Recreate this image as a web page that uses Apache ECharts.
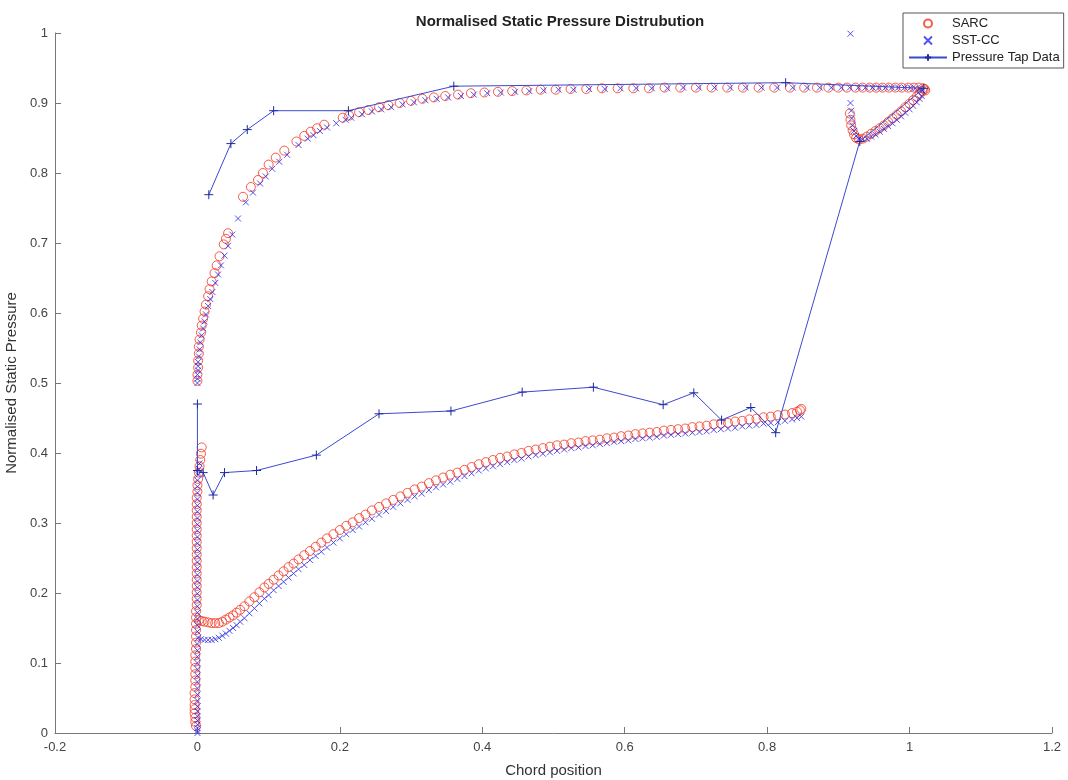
<!DOCTYPE html>
<html><head><meta charset="utf-8">
<script src="https://cdn.jsdelivr.net/npm/echarts@6/dist/echarts.min.js"></script>
<style>html,body{margin:0;padding:0;background:#fff}#c{width:1068px;height:780px}</style>
</head><body><div id="c"></div>
<script>
var xTicks = [-0.2, 0, 0.2, 0.4, 0.6, 0.8, 1, 1.2];
var yTicks = [0, 0.1, 0.2, 0.3, 0.4, 0.5, 0.6, 0.7, 0.8, 0.9, 1];

var sarcUpper = [[0.000,0.503],[0.000,0.512],[0.001,0.522],[0.001,0.532],[0.002,0.542],[0.002,0.552],[0.003,0.562],[0.005,0.572],[0.006,0.582],[0.008,0.592],[0.010,0.602],[0.012,0.612],[0.015,0.624],[0.017,0.634],[0.020,0.645],[0.024,0.657],[0.027,0.668],[0.031,0.681],[0.037,0.698],[0.040,0.706],[0.043,0.714],[0.064,0.766],[0.075,0.780],[0.085,0.790],[0.092,0.800],[0.100,0.812],[0.110,0.822],[0.122,0.832],[0.139,0.845],[0.150,0.853],[0.159,0.859],[0.168,0.864],[0.178,0.869],[0.204,0.879],[0.213,0.882],[0.227,0.887],[0.240,0.890],[0.255,0.894],[0.268,0.897],[0.284,0.900],[0.300,0.903],[0.316,0.906],[0.332,0.908],[0.348,0.910],[0.366,0.912],[0.384,0.914],[0.403,0.915],[0.422,0.916],[0.442,0.917],[0.462,0.918],[0.482,0.919],[0.503,0.919],[0.524,0.920],[0.546,0.920],[0.568,0.921],[0.590,0.921],[0.612,0.921],[0.634,0.921],[0.656,0.922],[0.678,0.922],[0.700,0.922],[0.722,0.922],[0.744,0.922],[0.766,0.922],[0.788,0.922],[0.810,0.922],[0.832,0.922],[0.852,0.922],[0.870,0.922],[0.886,0.922],[0.900,0.922],[0.912,0.922],[0.924,0.922],[0.934,0.922],[0.944,0.922],[0.953,0.922],[0.962,0.922],[0.971,0.922],[0.980,0.922],[0.989,0.922],[0.998,0.922],[1.006,0.922],[1.013,0.922],[1.019,0.921],[1.022,0.918]];
var sarcTrailing = [[0.916,0.885],[0.917,0.876],[0.918,0.868],[0.920,0.861],[0.922,0.855],[0.925,0.850],[0.929,0.848],[0.934,0.849],[0.940,0.852],[0.946,0.856],[0.952,0.860],[0.958,0.864],[0.964,0.868],[0.970,0.873],[0.976,0.878],[0.982,0.883],[0.988,0.888],[0.994,0.894],[1.000,0.899],[1.005,0.904],[1.010,0.909],[1.014,0.913],[1.018,0.917],[1.021,0.920]];
var sarcLeading = [[0.006,0.408],[0.005,0.399],[0.004,0.390],[0.003,0.381],[0.002,0.372],[0.001,0.363],[0.000,0.354],[0.000,0.345],[-0.001,0.336],[-0.001,0.327],[-0.001,0.318],[-0.001,0.309],[-0.001,0.300],[-0.001,0.291],[-0.001,0.282],[-0.001,0.273],[-0.001,0.264],[-0.001,0.255],[-0.001,0.246],[-0.001,0.237],[-0.001,0.228],[-0.001,0.219],[-0.001,0.210],[-0.001,0.201],[-0.001,0.192],[-0.001,0.183],[-0.002,0.174],[-0.002,0.165],[-0.002,0.156],[-0.002,0.147],[-0.002,0.138],[-0.002,0.129],[-0.002,0.120],[-0.003,0.111],[-0.003,0.102],[-0.003,0.093],[-0.003,0.084],[-0.003,0.075],[-0.003,0.066],[-0.004,0.057],[-0.004,0.048],[-0.004,0.040],[-0.004,0.034],[-0.004,0.028],[-0.003,0.022],[-0.003,0.016],[-0.002,0.010]];
var sarcLower = [[0.002,0.161],[0.006,0.160],[0.010,0.159],[0.015,0.158],[0.020,0.157],[0.025,0.157],[0.030,0.157],[0.035,0.159],[0.040,0.162],[0.045,0.165],[0.050,0.168],[0.055,0.172],[0.060,0.176],[0.066,0.181],[0.073,0.188],[0.080,0.194],[0.087,0.201],[0.094,0.208],[0.100,0.213],[0.107,0.219],[0.114,0.225],[0.121,0.231],[0.128,0.237],[0.135,0.242],[0.142,0.248],[0.150,0.254],[0.158,0.260],[0.166,0.266],[0.174,0.272],[0.182,0.278],[0.191,0.284],[0.200,0.290],[0.209,0.296],[0.218,0.301],[0.227,0.307],[0.236,0.312],[0.245,0.318],[0.255,0.323],[0.265,0.328],[0.275,0.333],[0.285,0.338],[0.295,0.343],[0.305,0.348],[0.315,0.352],[0.325,0.357],[0.335,0.361],[0.345,0.365],[0.355,0.369],[0.365,0.372],[0.375,0.376],[0.385,0.380],[0.395,0.384],[0.405,0.387],[0.415,0.390],[0.425,0.393],[0.435,0.395],[0.445,0.398],[0.455,0.400],[0.465,0.403],[0.475,0.405],[0.485,0.407],[0.495,0.409],[0.505,0.411],[0.515,0.412],[0.525,0.414],[0.535,0.415],[0.545,0.417],[0.555,0.418],[0.565,0.419],[0.575,0.421],[0.585,0.422],[0.595,0.424],[0.605,0.425],[0.615,0.427],[0.625,0.428],[0.635,0.429],[0.645,0.430],[0.655,0.432],[0.665,0.433],[0.675,0.434],[0.685,0.435],[0.695,0.437],[0.705,0.438],[0.715,0.439],[0.725,0.441],[0.735,0.442],[0.745,0.443],[0.755,0.445],[0.765,0.446],[0.775,0.448],[0.785,0.449],[0.795,0.451],[0.805,0.452],[0.815,0.454],[0.825,0.455],[0.835,0.457],[0.842,0.459],[0.846,0.461],[0.848,0.463]];

var sstUpper = [[0.000,0.500],[0.000,0.506],[0.000,0.512],[0.001,0.518],[0.001,0.524],[0.001,0.530],[0.002,0.538],[0.003,0.548],[0.004,0.558],[0.006,0.568],[0.008,0.578],[0.010,0.588],[0.012,0.598],[0.015,0.610],[0.018,0.620],[0.021,0.630],[0.025,0.643],[0.029,0.655],[0.033,0.668],[0.038,0.682],[0.043,0.696],[0.049,0.712],[0.057,0.735],[0.068,0.758],[0.078,0.772],[0.088,0.785],[0.096,0.795],[0.105,0.806],[0.115,0.816],[0.126,0.826],[0.142,0.840],[0.155,0.849],[0.163,0.854],[0.172,0.860],[0.182,0.865],[0.195,0.871],[0.208,0.876],[0.216,0.879],[0.231,0.884],[0.245,0.888],[0.258,0.891],[0.272,0.894],[0.288,0.898],[0.304,0.901],[0.320,0.904],[0.336,0.906],[0.352,0.908],[0.370,0.910],[0.388,0.912],[0.407,0.914],[0.426,0.915],[0.446,0.916],[0.466,0.917],[0.486,0.918],[0.507,0.919],[0.528,0.919],[0.550,0.920],[0.572,0.920],[0.594,0.921],[0.616,0.921],[0.638,0.921],[0.660,0.921],[0.682,0.922],[0.704,0.922],[0.726,0.922],[0.748,0.922],[0.770,0.922],[0.792,0.922],[0.814,0.922],[0.836,0.922],[0.856,0.922],[0.874,0.922],[0.890,0.922],[0.904,0.922],[0.916,0.922],[0.928,0.922],[0.938,0.922],[0.948,0.922],[0.957,0.922],[0.966,0.922],[0.975,0.922],[0.984,0.922],[0.993,0.922],[1.001,0.922],[1.008,0.921],[1.014,0.920],[1.018,0.918]];
var sstTrailing = [[0.917,0.999],[0.917,0.900],[0.918,0.889],[0.919,0.878],[0.920,0.868],[0.922,0.860],[0.925,0.853],[0.929,0.849],[0.934,0.848],[0.940,0.849],[0.946,0.852],[0.952,0.855],[0.958,0.859],[0.964,0.863],[0.970,0.867],[0.976,0.871],[0.982,0.876],[0.988,0.881],[0.994,0.886],[1.000,0.891],[1.005,0.896],[1.010,0.901],[1.014,0.906],[1.017,0.910]];
var sstLeading = [[0.003,0.385],[0.002,0.377],[0.001,0.369],[0.000,0.361],[0.000,0.352],[0.000,0.343],[0.000,0.334],[0.000,0.325],[0.000,0.316],[0.000,0.307],[0.000,0.298],[0.000,0.289],[0.000,0.280],[0.000,0.271],[0.000,0.262],[0.000,0.253],[0.000,0.244],[0.000,0.235],[0.000,0.226],[0.000,0.217],[0.000,0.208],[0.000,0.199],[0.000,0.190],[0.000,0.181],[0.000,0.172],[0.000,0.163],[0.000,0.154],[0.000,0.145],[0.000,0.127],[0.000,0.118],[0.000,0.109],[0.000,0.100],[0.000,0.091],[0.000,0.082],[0.000,0.073],[0.000,0.064],[0.000,0.055],[0.000,0.046],[0.000,0.038],[0.000,0.031],[0.000,0.024],[0.000,0.018],[0.000,0.012],[0.000,0.007],[0.000,0.003],[0.000,0.000]];
var sstLower = [[0.001,0.136],[0.005,0.134],[0.010,0.133],[0.015,0.133],[0.020,0.133],[0.025,0.134],[0.030,0.136],[0.035,0.139],[0.040,0.142],[0.045,0.146],[0.050,0.150],[0.055,0.154],[0.060,0.159],[0.066,0.164],[0.073,0.171],[0.080,0.178],[0.087,0.185],[0.094,0.192],[0.100,0.197],[0.107,0.204],[0.114,0.210],[0.121,0.216],[0.128,0.222],[0.135,0.228],[0.142,0.234],[0.150,0.240],[0.158,0.247],[0.166,0.253],[0.174,0.259],[0.182,0.265],[0.191,0.272],[0.200,0.278],[0.209,0.284],[0.218,0.290],[0.227,0.295],[0.236,0.301],[0.245,0.306],[0.255,0.312],[0.265,0.317],[0.275,0.323],[0.285,0.328],[0.295,0.333],[0.305,0.338],[0.315,0.342],[0.325,0.347],[0.335,0.351],[0.345,0.355],[0.355,0.359],[0.365,0.363],[0.375,0.367],[0.385,0.371],[0.395,0.375],[0.405,0.378],[0.415,0.381],[0.425,0.384],[0.435,0.387],[0.445,0.390],[0.455,0.392],[0.465,0.395],[0.475,0.397],[0.485,0.399],[0.495,0.401],[0.505,0.403],[0.515,0.405],[0.525,0.407],[0.535,0.408],[0.545,0.410],[0.555,0.411],[0.565,0.413],[0.575,0.414],[0.585,0.416],[0.595,0.417],[0.605,0.418],[0.615,0.420],[0.625,0.421],[0.635,0.422],[0.645,0.423],[0.655,0.425],[0.665,0.426],[0.675,0.427],[0.685,0.428],[0.695,0.429],[0.705,0.430],[0.715,0.431],[0.725,0.433],[0.735,0.434],[0.745,0.435],[0.755,0.436],[0.765,0.438],[0.775,0.439],[0.785,0.440],[0.795,0.442],[0.805,0.443],[0.815,0.444],[0.825,0.446],[0.835,0.448],[0.842,0.450],[0.848,0.452]];

var tapData = [[0.000,0.470],[0.000,0.375],[0.008,0.372],[0.022,0.340],[0.038,0.372],[0.083,0.375],[0.167,0.397],[0.255,0.456],[0.356,0.460],[0.456,0.487],[0.556,0.494],[0.654,0.469],[0.697,0.486],[0.736,0.447],[0.777,0.465],[0.812,0.429],[0.930,0.845],[1.020,0.921],[0.826,0.929],[0.360,0.924],[0.212,0.889],[0.107,0.889],[0.070,0.862],[0.047,0.842],[0.016,0.769]];

var RED = '#f2351f', BLUE = '#2a2ae6', LINE = '#3a4ad0';
var chart = echarts.init(document.getElementById('c'));
var font = 'Liberation Sans, Arial, sans-serif';
function fmt(v) { return String(Math.round(v * 10) / 10); }
chart.setOption({
  animation: false,
  backgroundColor: '#fff',
  title: { text: 'Normalised Static Pressure Distrubution', left: 555, textAlign: 'center', top: 9,
    textStyle: { fontFamily: font, fontSize: 15, fontWeight: 'bold', color: '#222' } },
  grid: { left: 55, right: 16, top: 33, bottom: 47, containLabel: false, outerBoundsMode: 'none' },
  legend: {
    orient: 'vertical', left: 903, top: 13,
    backgroundColor: '#fff', borderColor: '#555', borderWidth: 1, padding: [4, 4, 4, 5],
    itemGap: 4, itemWidth: 38, itemHeight: 8,
    textStyle: { fontFamily: font, fontSize: 13, color: '#222' },
    data: ['SARC', 'SST-CC', 'Pressure Tap Data']
  },
  xAxis: {
    type: 'value', min: -0.2, max: 1.2, interval: 0.2,
    name: 'Chord position', nameLocation: 'middle', nameGap: 30,
    nameTextStyle: { fontFamily: font, fontSize: 15, color: '#333' },
    axisLine: { show: true, onZero: false, lineStyle: { color: '#777', width: 1 } },
    axisTick: { show: true, inside: true, length: 6, lineStyle: { color: '#777' } },
    axisLabel: { fontFamily: font, fontSize: 13, color: '#444', margin: 8, formatter: fmt },
    splitLine: { show: false }
  },
  yAxis: {
    type: 'value', min: 0, max: 1, interval: 0.1,
    name: 'Normalised Static Pressure', nameLocation: 'middle', nameGap: 33,
    nameTextStyle: { fontFamily: font, fontSize: 15, color: '#333' },
    axisLine: { show: true, onZero: false, lineStyle: { color: '#777', width: 1 } },
    axisTick: { show: true, inside: true, length: 6, lineStyle: { color: '#777' } },
    axisLabel: { fontFamily: font, fontSize: 13, color: '#444', margin: 7, formatter: fmt },
    splitLine: { show: false }
  },
  series: [
    { name: 'SARC', type: 'scatter', symbol: 'circle', symbolSize: 9,
      itemStyle: { color: 'rgba(0,0,0,0)', borderColor: RED, borderWidth: 1 },
      data: sarcUpper.concat(sarcTrailing, sarcLeading, sarcLower) },
    { name: 'SST-CC', type: 'scatter', symbol: 'path://M0,0L10,10M10,0L0,10', symbolSize: 6,
      itemStyle: { color: 'rgba(0,0,0,0)', borderColor: BLUE, borderWidth: 1 },
      data: sstUpper.concat(sstTrailing, sstLeading, sstLower) },
    { name: 'Pressure Tap Data', type: 'line', symbol: 'path://M5,0L5,10M0,5L10,5', symbolSize: 9,
      showAllSymbol: true,
      lineStyle: { color: LINE, width: 1 },
      itemStyle: { color: 'rgba(0,0,0,0)', borderColor: '#1e2aa0', borderWidth: 1 },
      data: tapData }
  ]
});
</script></body></html>
